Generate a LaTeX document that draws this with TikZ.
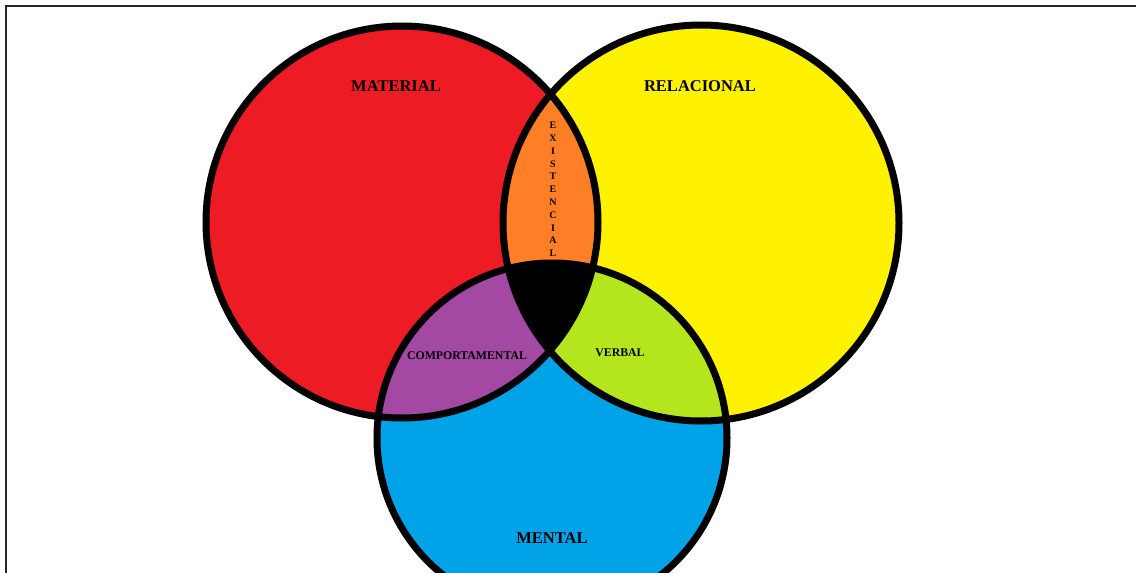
\documentclass[tikz,border=0pt]{standalone}
\usepackage{fontspec}
\setmainfont{Liberation Serif}
\definecolor{cred}{RGB}{237,28,36}
\definecolor{cyellow}{RGB}{255,242,0}
\definecolor{cblue}{RGB}{0,162,232}
\definecolor{corange}{RGB}{255,127,39}
\definecolor{cpurple}{RGB}{163,73,164}
\definecolor{clime}{RGB}{181,230,29}
\begin{document}
\begin{tikzpicture}[x=1pt,y=-1pt,
  outline/.style={draw=black,line width=7pt},
  bigtext/.style={font=\bfseries\fontsize{16.5}{20}\selectfont,inner sep=0pt},
  smalltext/.style={font=\bfseries\fontsize{11.8}{14}\selectfont,inner sep=0pt},
  vtext/.style={font=\bfseries\fontsize{10}{12.8}\selectfont,align=center,inner sep=0pt}]
\useasboundingbox (0,0) rectangle (1136,573);
\fill[white] (0,0) rectangle (1136,573);
% frame
\coordinate (fa) at (6,573);
\coordinate (fb) at (6,6);
\coordinate (fc) at (1136,6);
\draw[black!85,line width=1.6pt] (fa) -- (fb) -- (fc);
% circles
\def\redc{(402,222) circle[radius=196]}
\def\yelc{(701,223) circle[radius=198]}
\def\bluc{(552,438) circle[radius=175]}
\fill[cred] \redc;
\fill[cyellow] \yelc;
\fill[cblue] \bluc;
\begin{scope}
  \clip \redc;
  \fill[corange] \yelc;
  \fill[cpurple] \bluc;
\end{scope}
\begin{scope}
  \clip \yelc;
  \fill[clime] \bluc;
\end{scope}
\begin{scope}
  \clip \redc;
  \clip \yelc;
  \fill[black] \bluc;
\end{scope}
\draw[outline] \redc;
\draw[outline] \yelc;
\draw[outline] \bluc;
% labels
\node[bigtext] (material) at (396,86) {MATERIAL};
\node[bigtext] (relacional) at (700,86) {RELACIONAL};
\node[bigtext] (mental) at (552,538) {MENTAL};
\node[smalltext] (comport) at (467,356) {COMPORTAMENTAL};
\node[smalltext] (verbal) at (620,353) {VERBAL};
\node[vtext] (exist) at (553,189.5) {E\\X\\I\\S\\T\\E\\N\\C\\I\\A\\L};
\end{tikzpicture}
\end{document}
